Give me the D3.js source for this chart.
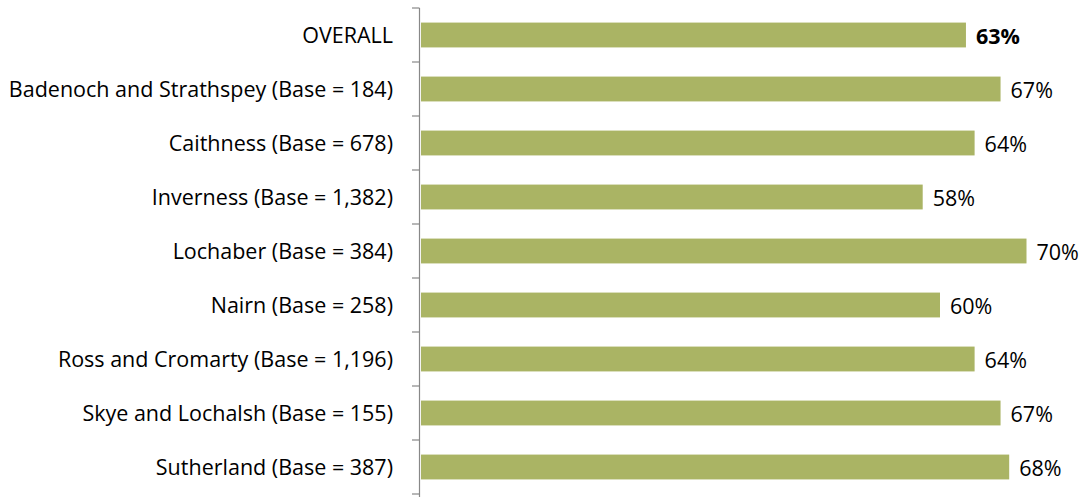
<!DOCTYPE html>
<html>
<head>
<meta charset="utf-8">
<script src="https://cdn.jsdelivr.net/npm/d3@7"></script>
<style>
  body { margin: 0; background: #fff; }
  text { font-family: "Open Sans", sans-serif; fill: #000; }
</style>
</head>
<body>
<div id="container"></div>
<script>
var categories = [
    "OVERALL",
    "Badenoch and Strathspey (Base = 184)",
    "Caithness (Base = 678)",
    "Inverness (Base = 1,382)",
    "Lochaber (Base = 384)",
    "Nairn (Base = 258)",
    "Ross and Cromarty (Base = 1,196)",
    "Skye and Lochalsh (Base = 155)",
    "Sutherland (Base = 387)"
];
var values = [63, 67, 64, 58, 70, 60, 64, 67, 68];

var width = 1090;
var height = 497;

window.onload = function() {
    var svg = d3.select("#container").append("svg")
        .attr("width", width)
        .attr("height", height);

    var x = d3.scaleLinear()
        .domain([0, 100])
        .range([421, 1286]);

    var y = d3.scaleBand()
        .domain(categories)
        .range([8, 494])
        .paddingInner(0.54)
        .paddingOuter(0.27);

    // bars
    svg.append("g")
        .selectAll("rect")
        .data(values)
        .enter().append("rect")
        .attr("x", x(0))
        .attr("y", function(d, i) { return y(categories[i]); })
        .attr("width", function(d) { return x(d) - x(0); })
        .attr("height", y.bandwidth())
        .style("fill", "#aab464");

    // value labels
    svg.append("g")
        .selectAll("text")
        .data(values)
        .enter().append("text")
        .attr("x", function(d) { return x(d) + 10; })
        .attr("y", function(d, i) { return y(categories[i]) + y.bandwidth() / 2 + 1; })
        .attr("dy", "0.36em")
        .style("font-size", "21.5px")
        .style("font-weight", function(d, i) { return i === 0 ? "bold" : "normal"; })
        .text(function(d) { return d + "%"; });

    // category axis, ticks between bands like excel
    var step = y.step();
    var top = y.range()[0];
    var ticks = d3.range(categories.length + 1).map(function(k) { return top + k * step; });
    var axis = svg.append("g").style("stroke", "#888").style("stroke-width", 1.2);
    axis.append("line")
        .attr("x1", 419.5).attr("x2", 419.5)
        .attr("y1", ticks[0]).attr("y2", height);
    axis.selectAll("line.tick")
        .data(ticks)
        .enter().append("line")
        .attr("class", "tick")
        .attr("x1", 412).attr("x2", 419.5)
        .attr("y1", function(d) { return d; })
        .attr("y2", function(d) { return d; });

    svg.append("g")
        .selectAll("text")
        .data(categories)
        .enter().append("text")
        .attr("x", 393)
        .attr("y", function(d) { return y(d) + y.bandwidth() / 2; })
        .attr("dy", "0.36em")
        .attr("text-anchor", "end")
        .style("font-size", "21.5px")
        .text(function(d) { return d; });
};
</script>
</body>
</html>
